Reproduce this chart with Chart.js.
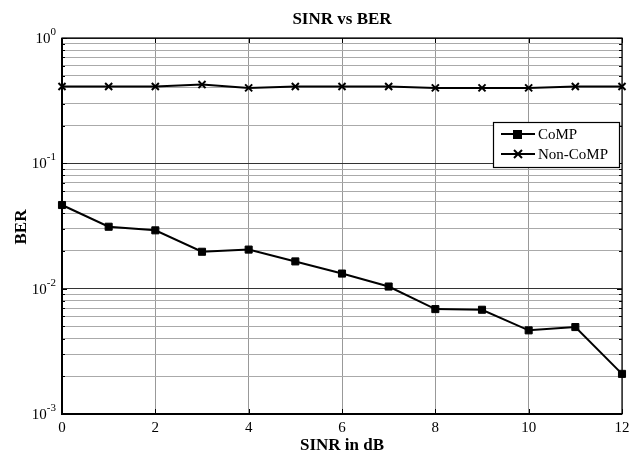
<!DOCTYPE html>
<html lang="en">
<head>
<meta charset="UTF-8">
<title>SINR vs BER</title>
<style>
    body { margin: 0; background: #fff; }
    #wrap { width: 641px; height: 456px; }
</style>
<script src="https://cdn.jsdelivr.net/npm/chart.js"></script>
</head>
<body>
<div id="wrap"><canvas id="berChart" width="641" height="456"></canvas></div>
<script>
    // data
    const sinrDb = [0, 1, 2, 3, 4, 5, 6, 7, 8, 9, 10, 11, 12];
    const berComp = [0.0465, 0.0312, 0.0292, 0.0197, 0.0205, 0.0165, 0.0132, 0.0104, 0.00687, 0.00679, 0.00465, 0.00494, 0.00209];
    const berNonComp = [0.41, 0.41, 0.41, 0.425, 0.40, 0.41, 0.41, 0.41, 0.40, 0.40, 0.40, 0.41, 0.41];
    const xTicks = [0, 2, 4, 6, 8, 10, 12];
    const yTickExps = [0, -1, -2, -3];

    const serif = "'Liberation Serif', 'Times New Roman', serif";

    function minorTicks() {
        const out = [];
        for (let e = -3; e < 0; e++) {
            for (let m = 1; m < 10; m++) out.push({ value: m * Math.pow(10, e) });
        }
        out.push({ value: 1 });
        return out;
    }

    function isDecade(v) {
        const l = Math.log10(v);
        return Math.abs(l - Math.round(l)) < 1e-9;
    }

    // draws the box, inward ticks, tick labels, axis titles and legend
    const decorations = {
        id: 'decorations',
        afterDraw(chart) {
            const ctx = chart.ctx;
            const area = chart.chartArea;
            const xs = chart.scales.x, ys = chart.scales.y;
            ctx.save();
            ctx.strokeStyle = '#000';
            ctx.lineWidth = 1;

            // ticks on all four sides
            ctx.beginPath();
            xTicks.forEach(t => {
                const px = Math.round(xs.getPixelForValue(t)) + 0.5;
                ctx.moveTo(px, area.bottom); ctx.lineTo(px, area.bottom - 5);
                ctx.moveTo(px, area.top); ctx.lineTo(px, area.top + 5);
            });
            minorTicks().forEach(t => {
                const py = Math.round(ys.getPixelForValue(t.value)) + 0.5;
                const len = isDecade(t.value) ? 5 : 3;
                ctx.moveTo(area.left, py); ctx.lineTo(area.left + len, py);
                ctx.moveTo(area.right, py); ctx.lineTo(area.right - len, py);
            });
            ctx.stroke();

            // box: bottom and left a bit heavier
            ctx.lineWidth = 1.2;
            ctx.strokeRect(area.left, area.top, area.right - area.left, area.bottom - area.top);
            ctx.lineWidth = 2;
            ctx.beginPath();
            ctx.moveTo(area.left, area.top); ctx.lineTo(area.left, area.bottom); ctx.lineTo(area.right, area.bottom);
            ctx.stroke();

            ctx.fillStyle = '#000';
            // x tick labels
            ctx.font = '15px ' + serif;
            ctx.textAlign = 'center';
            ctx.textBaseline = 'top';
            xTicks.forEach(t => {
                ctx.fillText(String(t), xs.getPixelForValue(t), area.bottom + 7);
            });

            // y tick labels 10^k
            yTickExps.forEach(e => {
                const py = ys.getPixelForValue(Math.pow(10, e));
                ctx.font = '11px ' + serif;
                const sup = e === 0 ? '0' : '-' + Math.abs(e);
                const supW = ctx.measureText(sup).width;
                const right = area.left - 6;
                ctx.textAlign = 'left';
                ctx.textBaseline = 'alphabetic';
                ctx.fillText(sup, right - supW, py - 3);
                ctx.font = '15px ' + serif;
                ctx.textAlign = 'right';
                ctx.fillText('10', right - supW, py + 5);
            });

            // axis titles
            ctx.font = 'bold 17px ' + serif;
            ctx.textAlign = 'center';
            ctx.textBaseline = 'middle';
            ctx.fillText('SINR in dB', (area.left + area.right) / 2, 446);
            ctx.save();
            ctx.translate(22, 227);
            ctx.rotate(-Math.PI / 2);
            ctx.fillText('BER', 0, 0);
            ctx.restore();
            ctx.fillText('SINR vs BER', (area.left + area.right) / 2, 20);

            // legend
            const lx = 493, ly = 122, lw = 126, lh = 45;
            ctx.fillStyle = '#fff';
            ctx.fillRect(lx, ly, lw, lh);
            ctx.lineWidth = 1.2;
            ctx.strokeRect(lx + 0.5, ly + 0.5, lw, lh);
            chart.data.datasets.forEach((ds, i) => {
                const cy = ly + 12 + i * 20;
                ctx.strokeStyle = '#000';
                ctx.lineWidth = 2;
                ctx.beginPath();
                ctx.moveTo(lx + 8, cy); ctx.lineTo(lx + 42, cy);
                ctx.stroke();
                ctx.fillStyle = '#000';
                if (ds.pointStyle === 'rect') {
                    ctx.fillRect(lx + 20, cy - 4, 9, 9);
                } else {
                    ctx.beginPath();
                    ctx.moveTo(lx + 21, cy - 4); ctx.lineTo(lx + 29, cy + 4);
                    ctx.moveTo(lx + 29, cy - 4); ctx.lineTo(lx + 21, cy + 4);
                    ctx.stroke();
                }
                ctx.font = '15px ' + serif;
                ctx.textAlign = 'left';
                ctx.textBaseline = 'middle';
                ctx.fillText(ds.label, lx + 45, cy + 1);
            });
            ctx.restore();
        }
    };

    new Chart(document.getElementById('berChart'), {
        type: 'line',
        data: {
            labels: sinrDb,
            datasets: [{
                label: 'CoMP',
                data: sinrDb.map((x, i) => ({ x: x, y: berComp[i] })),
                borderColor: '#000',
                backgroundColor: '#000',
                borderWidth: 2,
                pointStyle: 'rect',
                pointRadius: 5,
                pointBorderWidth: 1,
                tension: 0,
                clip: false
            }, {
                label: 'Non-CoMP',
                data: sinrDb.map((x, i) => ({ x: x, y: berNonComp[i] })),
                borderColor: '#000',
                backgroundColor: '#000',
                borderWidth: 2,
                pointStyle: 'crossRot',
                pointRadius: 5,
                pointBorderWidth: 2,
                tension: 0,
                clip: false
            }]
        },
        options: {
            responsive: false,
            animation: false,
            devicePixelRatio: 1,
            layout: { padding: { left: 62, right: 19, top: 38, bottom: 42 } },
            plugins: {
                legend: { display: false },
                title: { display: false },
                tooltip: { enabled: false }
            },
            scales: {
                x: {
                    type: 'linear',
                    min: 0,
                    max: 12,
                    afterBuildTicks: axis => { axis.ticks = xTicks.map(v => ({ value: v })); },
                    ticks: { display: false },
                    grid: { color: '#999', lineWidth: 1, drawTicks: false },
                    border: { display: false }
                },
                y: {
                    type: 'logarithmic',
                    min: 0.001,
                    max: 1,
                    afterBuildTicks: axis => { axis.ticks = minorTicks(); },
                    ticks: { display: false },
                    grid: {
                        color: c => isDecade(c.tick.value) ? '#333' : '#aaa',
                        lineWidth: 1,
                        drawTicks: false
                    },
                    border: { display: false }
                }
            }
        },
        plugins: [decorations]
    });
</script>
</body>
</html>
